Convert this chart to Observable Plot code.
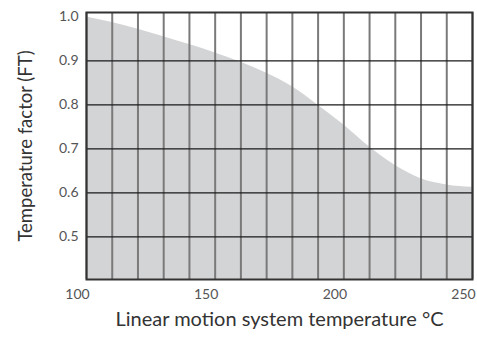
<!DOCTYPE html>
<html>
<head>
<meta charset="utf-8">
<script src="https://cdn.jsdelivr.net/npm/d3@7"></script>
<script src="https://cdn.jsdelivr.net/npm/@observablehq/plot@0.6"></script>
<style>
  body { margin: 0; background: #fff; }
  #chart svg { display: block; overflow: visible; }
</style>
</head>
<body>
<div id="chart"></div>
<script>
const temps   = [100, 110, 120, 130, 140, 150, 160, 170, 180, 190, 200, 210, 220, 230, 240, 250];
const factors = [1.0, 0.987, 0.972, 0.955, 0.937, 0.918, 0.897, 0.872, 0.841, 0.799, 0.754, 0.704, 0.662, 0.632, 0.618, 0.613];
const xTickLabels = [100, 150, 200, 250];
const yTickLabels = [0.5, 0.6, 0.7, 0.8, 0.9, 1.0];
const yGridLines = [0.5, 0.6, 0.7, 0.8, 0.9];
const xGridLines = d3.range(100, 251, 10);
const xTitle = "Linear motion system temperature °C";
const yTitle = "Temperature factor (FT)";

const data = temps.map((t, i) => ({t, f: factors[i]}));
const font = "Lato, 'Open Sans', sans-serif";

const chart = Plot.plot({
  width: 477,
  height: 346,
  marginLeft: 86,
  marginRight: 5,
  marginTop: 12,
  marginBottom: 67,
  style: {fontFamily: font, color: "#444", background: "#fff"},
  x: {domain: [100, 250]},
  y: {domain: [0.403, 1.01]},
  marks: [
    Plot.areaY(data, {x: "t", y1: 0.403, y2: "f", fill: "#d3d4d6", curve: "monotone-x", clip: true}),
    Plot.ruleX(xGridLines, {stroke: "#7a7a7a", strokeWidth: 2}),
    Plot.ruleY(yGridLines, {stroke: "#1a1a1a", strokeWidth: 1.4}),
    Plot.frame({stroke: "#333", strokeWidth: 2}),
    Plot.axisX(xTickLabels, {tickSize: 0, tickPadding: 10, dx: -9, fontSize: 14, label: null, fill: "#555"}),
    Plot.axisY(yTickLabels, {tickSize: 0, tickPadding: 8, fontSize: 14, label: null, tickFormat: d3.format(".1f"), fill: "#555"}),
    Plot.text([xTitle], {frameAnchor: "bottom", dy: 46, fontSize: 20, fill: "#333"}),
    Plot.text([yTitle], {frameAnchor: "left", textAnchor: "middle", rotate: -90, dx: -60, fontSize: 18.5, fill: "#333"})
  ]
});
document.getElementById("chart").append(chart);
</script>
</body>
</html>
